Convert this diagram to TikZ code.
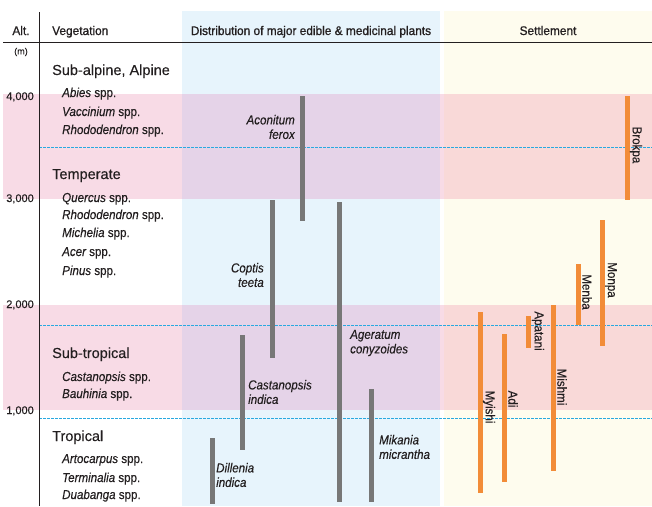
\documentclass[tikz,border=0pt]{standalone}
\usepackage{fontspec}
\setmainfont{Liberation Sans}[FakeBold=0.25]
\newfontfamily\cond[FakeStretch=0.89,FakeBold=0.3]{Liberation Sans}
\newfontfamily\condhd[FakeStretch=0.95,FakeBold=0.9]{Liberation Sans}
\definecolor{colblue}{HTML}{E7F4FC}
\definecolor{colyel}{HTML}{FEFCEE}
\definecolor{pinkW}{HTML}{F8DBE6}
\definecolor{pinkB}{HTML}{E5D3E8}
\definecolor{pinkY}{HTML}{F9D9D8}
\definecolor{dashc}{HTML}{29A9E0}
\definecolor{gbarc}{HTML}{777777}
\definecolor{obarc}{HTML}{F28C38}
\definecolor{txt}{HTML}{231F20}
\begin{document}
\begin{tikzpicture}[x=1pt,y=-1pt,
  hdr/.style={font=\condhd\fontsize{12.5}{14}\selectfont, inner sep=0, anchor=base, text=txt},
  zone/.style={font=\fontsize{14.5}{16}\selectfont, inner sep=0, anchor=base west, text=txt},
  spec/.style={font=\cond\fontsize{13}{15}\selectfont, inner sep=0, anchor=base west, text=txt},
  altl/.style={font=\fontsize{11}{12}\selectfont, inner sep=0, anchor=base east, text=txt},
  plab/.style={font=\cond\itshape\fontsize{13}{14.5}\selectfont, inner sep=0, align=left, text=txt},
  slab/.style={font=\cond\fontsize{13}{15}\selectfont, inner sep=0, rotate=-90, text=txt},
  gbar/.style={fill=gbarc, draw=none},
  obar/.style={fill=obarc, draw=none},
  dline/.style={draw=dashc, line width=0.8pt, dash pattern=on 2.5pt off 1.5pt}]
\useasboundingbox (0,0) rectangle (652,506);
% column backgrounds
\fill[colblue] (182,11) rectangle (440,506);
\fill[colyel] (444,11) rectangle (652,506);
% pink bands
\foreach \ya/\yb in {94/199, 305/410}{
  \fill[pinkW] (3,\ya) rectangle (182,\yb);
  \fill[pinkB] (182,\ya) rectangle (440,\yb);
  \fill[pinkW] (440,\ya) rectangle (444,\yb);
  \fill[pinkY] (444,\ya) rectangle (652,\yb);
}
% dashed lines
\draw[dline] (39,147) -- (652,147);
\draw[dline] (39,325) -- (652,325);
\draw[dline] (39,418) -- (652,418);
% axes
\draw[line width=0.9pt, txt] (39,12) -- (39,506);
\draw[line width=0.9pt, txt] (3,42) -- (652,42);
% headers
\node[hdr] (halt) at (21,35) {Alt.};
\node[hdr, anchor=base west] (hveg) at (52,35) {Vegetation};
\node[hdr] (hdist) at (311,35) {Distribution of major edible \& medicinal plants};
\node[hdr] (hset) at (548,35) {Settlement};
% altitude labels
\node[font=\fontsize{9}{11}\selectfont, inner sep=0, text=txt] (unit) at (21,52) {(m)};
\node[altl] (a4) at (34,100) {4,000};
\node[altl] (a3) at (34,202) {3,000};
\node[altl] (a2) at (34,308) {2,000};
\node[altl] (a1) at (34,414) {1,000};
% vegetation zones
\node[zone] (z1) at (52,75) {Sub-alpine, Alpine};
\node[spec] (s1) at (62,97) {\itshape Abies\upshape\ spp.};
\node[spec] (s2) at (62,116) {\itshape Vaccinium\upshape\ spp.};
\node[spec] (s3) at (62,134) {\itshape Rhododendron\upshape\ spp.};
\node[zone] (z2) at (52,179) {Temperate};
\node[spec] (s4) at (62,202) {\itshape Quercus\upshape\ spp.};
\node[spec] (s5) at (62,219) {\itshape Rhododendron\upshape\ spp.};
\node[spec] (s6) at (62,237) {\itshape Michelia\upshape\ spp.};
\node[spec] (s7) at (62,256) {\itshape Acer\upshape\ spp.};
\node[spec] (s8) at (62,275) {\itshape Pinus\upshape\ spp.};
\node[zone] (z3) at (52,358) {Sub-tropical};
\node[spec] (s9) at (62,381) {\itshape Castanopsis\upshape\ spp.};
\node[spec] (s10) at (62,398) {\itshape Bauhinia\upshape\ spp.};
\node[zone] (z4) at (52,441) {Tropical};
\node[spec] (s11) at (62,463) {\itshape Artocarpus\upshape\ spp.};
\node[spec] (s12) at (62,482) {\itshape Terminalia\upshape\ spp.};
\node[spec] (s13) at (62,499) {\itshape Duabanga\upshape\ spp.};
% plant bars
\fill[gbar] (299.5,96) rectangle (304.5,221);
\fill[gbar] (269.5,200) rectangle (274.5,358);
\fill[gbar] (336.5,202) rectangle (341.5,502);
\fill[gbar] (239.5,335) rectangle (244.5,450);
\fill[gbar] (209.5,438) rectangle (214.5,504);
\fill[gbar] (368.5,389) rectangle (373.5,502);
% plant labels
\node[plab, align=right, anchor=east] (p1) at (295,127) {Aconitum\\ferox};
\node[plab, align=right, anchor=east] (p2) at (264,275) {Coptis\\teeta};
\node[plab, anchor=west] (p3) at (350,343) {Ageratum\\conyzoides};
\node[plab, anchor=west] (p4) at (248,392) {Castanopsis\\indica};
\node[plab, anchor=west] (p5) at (216,475) {Dillenia\\indica};
\node[plab, anchor=west] (p6) at (379,447) {Mikania\\micrantha};
% settlement bars
\fill[obar] (477.5,312) rectangle (482.5,493);
\fill[obar] (501.5,334) rectangle (506.5,482);
\fill[obar] (526,316) rectangle (531,348);
\fill[obar] (550.5,305) rectangle (555.5,471);
\fill[obar] (575.5,264) rectangle (580.5,325);
\fill[obar] (599.5,220) rectangle (604.5,346);
\fill[obar] (624.5,96) rectangle (629.5,200);
% settlement labels
\node[slab] (t1) at (489,407) {Myishi};
\node[slab] (t2) at (513,399) {Adi};
\node[slab] (t3) at (538,331) {Apatani};
\node[slab] (t4) at (562,387) {Mishmi};
\node[slab] (t5) at (587,292) {Menba};
\node[slab] (t6) at (611,280) {Monpa};
\node[slab] (t7) at (636,145) {Brokpa};
\end{tikzpicture}
\end{document}
